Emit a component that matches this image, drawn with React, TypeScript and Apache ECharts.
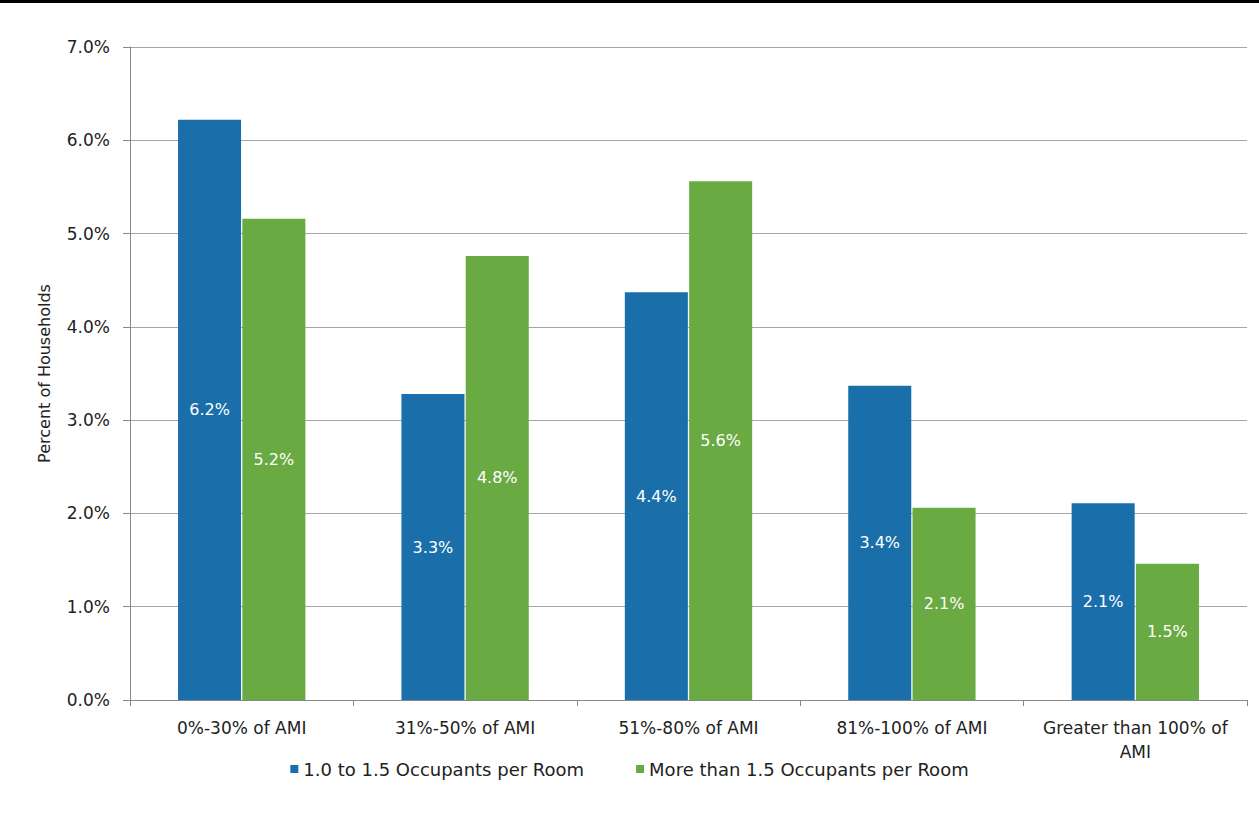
import React, { useEffect, useRef } from "react";
import * as echarts from "echarts";

const categories = [
  "0%-30% of AMI",
  "31%-50% of AMI",
  "51%-80% of AMI",
  "81%-100% of AMI",
  "Greater than 100% of\nAMI",
];
const seriesNames = ["1.0 to 1.5 Occupants per Room", "More than 1.5 Occupants per Room"];
const moderate = [6.22, 3.28, 4.37, 3.37, 2.11];
const severe = [5.16, 4.76, 5.56, 2.06, 1.46];
const colors = ["#1a6faa", "#6aaa42"];

const FONT = "DejaVu Sans";

export default function App() {
  const ref = useRef<HTMLDivElement>(null);
  useEffect(() => {
    document.body.style.margin = "0";
    const chart = echarts.init(ref.current!, null, { renderer: "svg" });
    const label = {
      show: true,
      position: "inside",
      color: "#ffffff",
      fontFamily: FONT,
      fontSize: 16,
      formatter: (p: any) => p.value.toFixed(1) + "%",
    };
    chart.setOption({
      animation: false,
      backgroundColor: "#ffffff",
      color: colors,
      graphic: [
        { type: "rect", shape: { x: 0, y: 0, width: 1259, height: 3 }, style: { fill: "#000" } },
      ],
      grid: { left: 130, right: 12, top: 47, bottom: 120 },
      legend: {
        top: 755,
        left: "center",
        itemWidth: 8,
        itemHeight: 8,
        itemGap: 52,
        icon: "rect",
        textStyle: { fontFamily: FONT, fontSize: 18, color: "#222" },
        data: seriesNames,
      },
      xAxis: {
        type: "category",
        data: categories,
        axisLine: { lineStyle: { color: "#888", width: 1 } },
        axisTick: { show: true, length: 6, lineStyle: { color: "#888" } },
        axisLabel: { fontFamily: FONT, fontSize: 17, color: "#222", margin: 16, lineHeight: 24, interval: 0 },
      },
      yAxis: {
        type: "value",
        min: 0,
        max: 7,
        interval: 1,
        name: "Percent of Households",
        nameLocation: "middle",
        nameRotate: 90,
        nameGap: 78,
        nameTextStyle: { fontFamily: FONT, fontSize: 16, color: "#222" },
        axisLine: { show: true, lineStyle: { color: "#888" } },
        axisTick: { show: true, length: 7, lineStyle: { color: "#888" } },
        splitLine: { lineStyle: { color: "#a6a6a6", width: 1 } },
        axisLabel: {
          fontFamily: FONT,
          fontSize: 17,
          color: "#222",
          margin: 20,
          formatter: (v: number) => v.toFixed(1) + "%",
        },
      },
      series: [
        { name: seriesNames[0], type: "bar", data: moderate, barGap: "2%", barCategoryGap: "43%", label },
        { name: seriesNames[1], type: "bar", data: severe, barGap: "2%", barCategoryGap: "43%", label },
      ],
    });
    return () => chart.dispose();
  }, []);
  return <div ref={ref} style={{ position: "absolute", left: 0, top: 0, width: 1259, height: 820 }} />;
}
